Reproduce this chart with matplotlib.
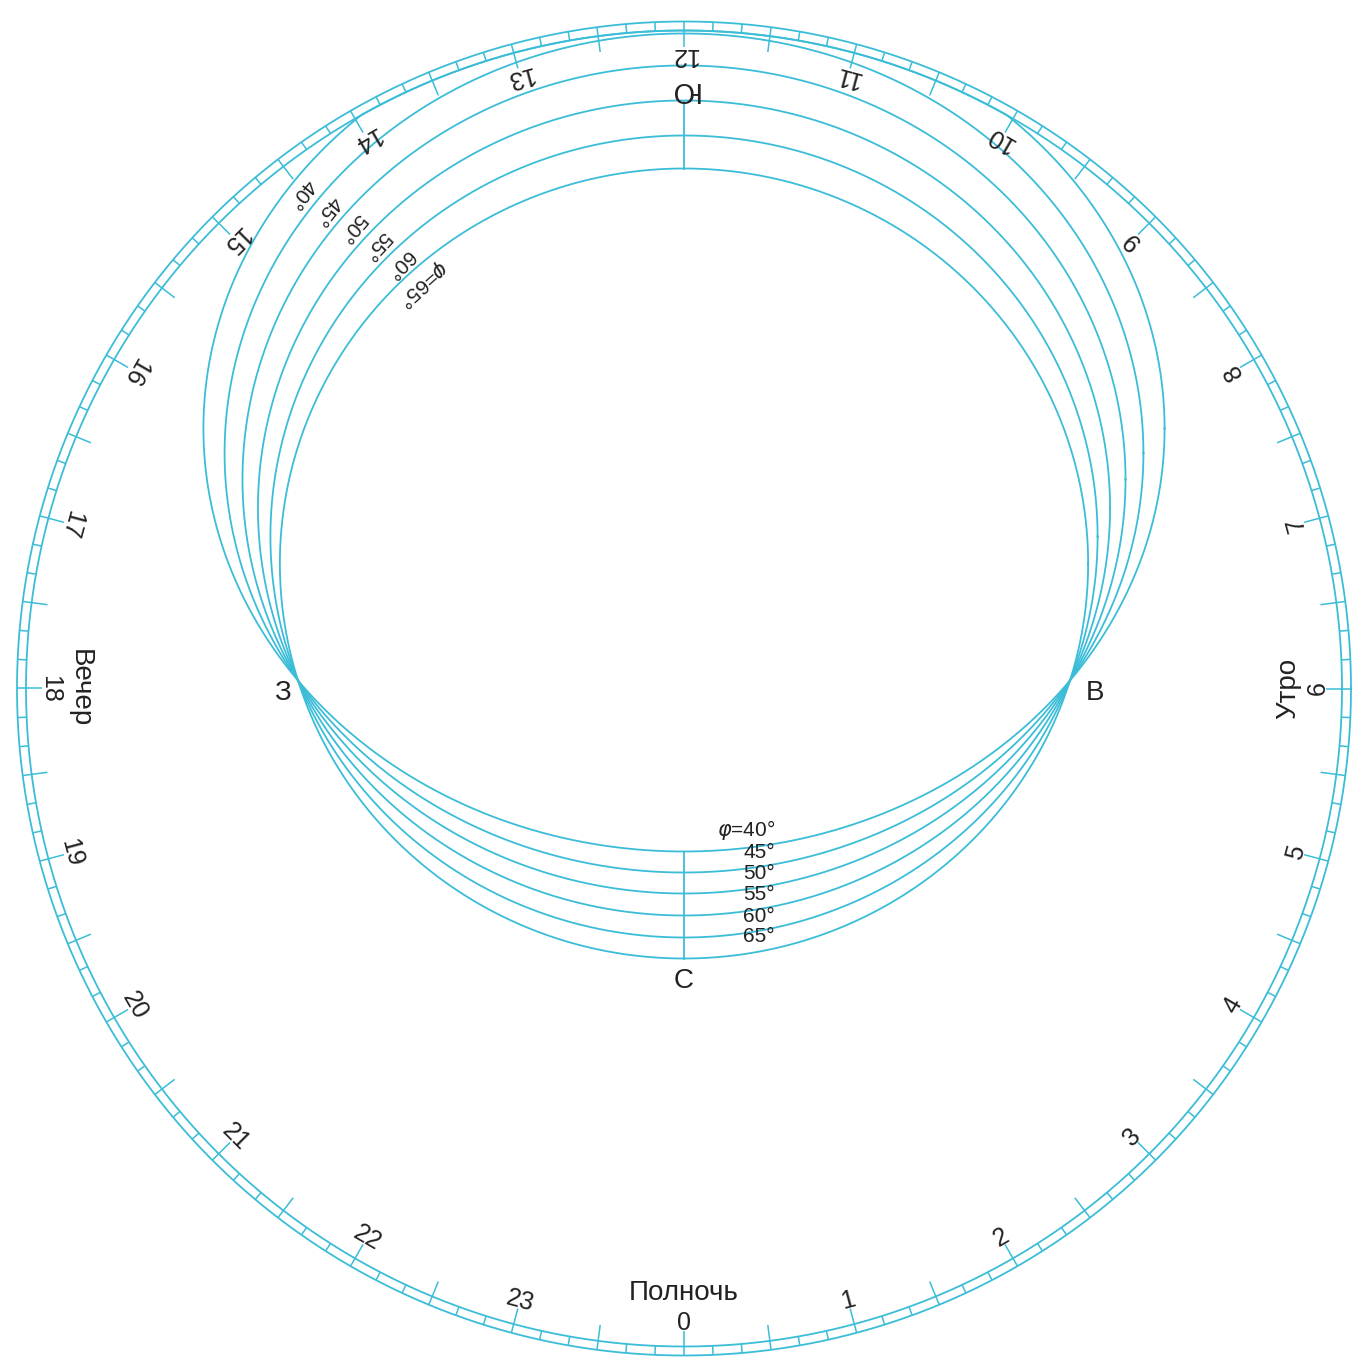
import matplotlib
matplotlib.use('Agg')
import matplotlib.pyplot as plt
from matplotlib.collections import LineCollection
import numpy as np

LINE = '#3bbdd8'
TEXT = '#222222'
FONT = ['Liberation Sans', 'DejaVu Sans']
NARROW = ['Liberation Sans Narrow', 'Liberation Sans', 'DejaVu Sans']

# dial: hours 0..23, midnight at the bottom, noon at the top
hours = list(range(24))
words = {0: 'Полночь', 6: 'Утро', 18: 'Вечер'}

# equinox sun paths for several latitudes (px from dial centre, y up)
latitudes = [40, 45, 50, 55, 60, 65]
noon_height = [683, 655, 623, 588, 553, 520]
midnight_depth = [-163, -184, -205, -227, -249, -270]
east_x = 386      # В / З points
east_y = 8

R_OUT, R_IN, R_TICK, R_LABEL = 667, 658, 642, 634

fig = plt.figure(figsize=(13.57, 13.61), dpi=100)
ax = fig.add_axes((0, 0, 1, 1))
ax.set_xlim(-684, 673)
ax.set_ylim(-672.5, 688.5)
ax.axis('off')

t = np.linspace(0, 2 * np.pi, 2000)

# ── dial ring ──────────────────────────────────────────
for r in (R_OUT, R_IN):
    ax.plot(r * np.cos(t), r * np.sin(t), color=LINE, lw=1.3)

segs = []
for k in range(24 * 6):
    a = np.deg2rad(-90 + 2.5 * k)
    r0 = R_TICK if k % 3 == 0 else R_IN
    segs.append([(r0 * np.cos(a), r0 * np.sin(a)), (R_OUT * np.cos(a), R_OUT * np.sin(a))])
ax.add_collection(LineCollection(segs, colors=LINE, linewidths=1.1))

for h in hours:
    a = np.deg2rad(-90 + 15 * h)
    ax.text(R_LABEL * np.cos(a), R_LABEL * np.sin(a), str(h), rotation=15 * h,
            rotation_mode='anchor', ha='center', va='center',
            fontsize=18, color=TEXT, family=FONT)

for h, w in words.items():
    a = np.deg2rad(-90 + 15 * h)
    ax.text(604 * np.cos(a), 604 * np.sin(a), w, rotation=15 * h,
            rotation_mode='anchor', ha='center', va='center',
            fontsize=20, color=TEXT, family=FONT)

# ── sun paths ──────────────────────────────────────────
ellipses = []
for lat, top, bot in zip(latitudes, noon_height, midnight_depth):
    yc = (top + bot) / 2
    B = (top - bot) / 2
    A = east_x / np.sqrt(1 - ((east_y - yc) / B) ** 2)
    ellipses.append((A, B, yc))
    x = A * np.cos(t)
    y = yc + B * np.sin(t)
    s = np.minimum(1, R_IN / np.hypot(x, y))
    ax.plot(x * s, y * s, color=LINE, lw=1.3)

# meridian pieces
ax.plot([0, 0], [noon_height[3], noon_height[-1]], color=LINE, lw=1.3)
ax.plot([0, 0], [midnight_depth[0], midnight_depth[-1]], color=LINE, lw=1.3)

# latitude labels, lower set (above each night arc)
lx = 91
for lat, (A, B, yc) in zip(latitudes, ellipses):
    y = yc - B * np.sqrt(1 - (lx / A) ** 2)
    s = (r'$\varphi$=' if lat == latitudes[0] else '') + f'{lat}°'
    ax.text(lx, y + 2, s, ha='right', va='bottom', fontsize=15,
            color=TEXT, family=NARROW)

# latitude labels, upper-left set (along each day arc)
for i, (lat, (A, B, yc)) in enumerate(zip(latitudes, ellipses)):
    alpha = np.deg2rad(128 - i * 1.0)
    ca, sa = np.cos(alpha), np.sin(alpha)
    qa = (ca / A) ** 2 + (sa / B) ** 2
    qb = -2 * sa * yc / B ** 2
    qc = (yc / B) ** 2 - 1
    d = (-qb + np.sqrt(qb ** 2 - 4 * qa * qc)) / (2 * qa)
    px, py = d * ca, d * sa
    tt = np.arctan2((py - yc) / B, px / A)
    rot = np.degrees(np.arctan2(B * np.cos(tt), -A * np.sin(tt)))
    px, py = (d - 4) * ca, (d - 4) * sa
    s = (r'$\varphi$=' if lat == latitudes[-1] else '') + f'{lat}°'
    ax.text(px, py, s, rotation=rot, rotation_mode='anchor', ha='center',
            va='bottom', fontsize=15, color=TEXT, family=NARROW)

# cardinal points
ax.text(-402, -4, 'З', ha='center', va='center', fontsize=20, color=TEXT, family=FONT)
ax.text(411, -4, 'В', ha='center', va='center', fontsize=20, color=TEXT, family=FONT)
ax.text(0, -292, 'С', ha='center', va='center', fontsize=20, color=TEXT, family=FONT)
ax.text(0, 598, 'Ю', rotation=180, ha='center', va='center', fontsize=21,
        color=TEXT, family=FONT)

fig.savefig('out.png', dpi=100, facecolor='white')
